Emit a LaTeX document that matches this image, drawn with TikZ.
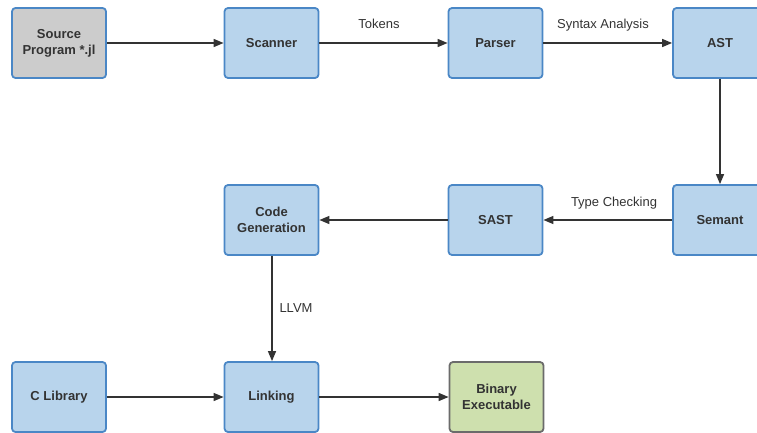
\documentclass[tikz,border=0pt]{standalone}
\usepackage{fontspec}
\setmainfont{Liberation Sans}
\usetikzlibrary{arrows.meta}
\definecolor{bfill}{HTML}{B8D4EC}
\definecolor{bdraw}{HTML}{4A87C6}
\definecolor{gfill}{HTML}{CCCCCC}
\definecolor{grfill}{HTML}{CEE0AE}
\definecolor{grdraw}{HTML}{6B6B6B}
\definecolor{txt}{HTML}{333333}
\begin{document}
\begin{tikzpicture}[x=1pt,y=-1pt,
  box/.style={draw=bdraw,fill=bfill,line width=1.8pt,rounded corners=3.5pt,
    minimum width=94pt,minimum height=70pt,inner sep=0pt,align=center,
    text=txt,font=\fontsize{13}{16}\selectfont\bfseries},
  graybox/.style={box,fill=gfill},
  greenbox/.style={box,fill=grfill,draw=grdraw},
  conn/.style={draw=txt,line width=1.4pt,-{Triangle[length=10pt,width=8pt]}},
  lbl/.style={text=txt,font=\fontsize{13}{16}\selectfont,inner sep=0pt,anchor=base}]
\useasboundingbox (0,0) rectangle (757,433);
\node[graybox] (src) at (59,43) {Source\\Program *.jl};
\node[box] (scan) at (271.5,43) {Scanner};
\node[box] (parse) at (495.5,43) {Parser};
\node[box] (ast) at (720,43) {AST};
\node[box] (sem) at (720,220) {Semant};
\node[box] (sast) at (495.5,220) {SAST};
\node[box] (cg) at (271.5,220) {Code\\Generation};
\node[box] (clib) at (59,397) {C Library};
\node[box] (link) at (271.5,397) {Linking};
\node[greenbox] (bin) at (496.5,397) {Binary\\Executable};
\draw[conn] (src) -- (scan);
\draw[conn] (scan) -- (parse) node[lbl] at (379,29) {Tokens};
\draw[conn] (parse) -- (ast) node[lbl] at (603,29) {Syntax Analysis};
\draw[conn] (ast) -- (sem);
\draw[conn] (sem) -- (sast) node[lbl] at (614,206) {Type Checking};
\draw[conn] (sast) -- (cg);
\draw[conn] ([xshift=0.5pt]cg.south) -- ([xshift=0.5pt]link.north) node[lbl] at (296,312) {LLVM};
\draw[conn] (clib) -- (link);
\draw[conn] (link) -- (bin);
\end{tikzpicture}
\end{document}
